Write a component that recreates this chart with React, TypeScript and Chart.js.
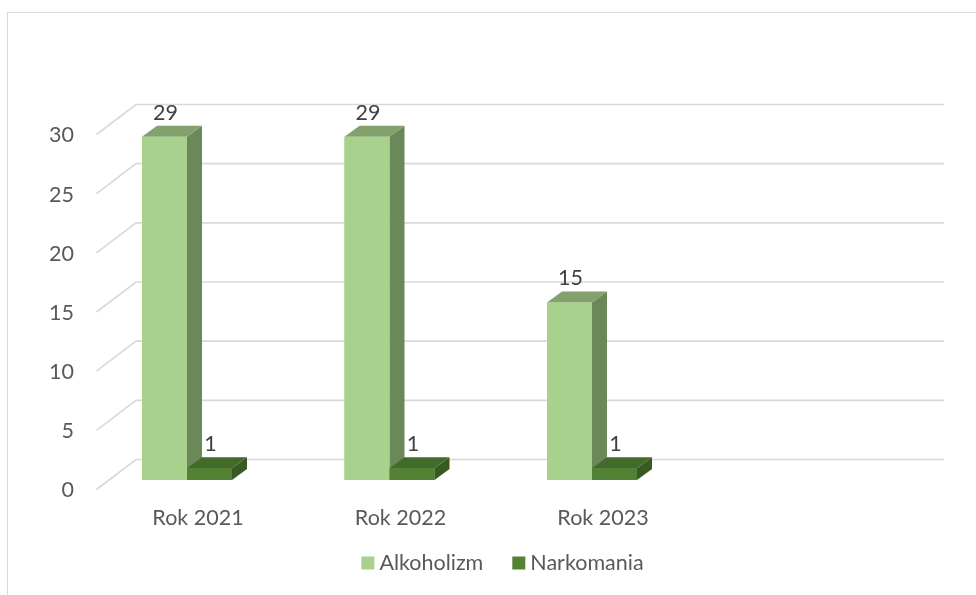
import { useEffect, useRef } from "react";
import { Chart, registerables } from "chart.js";

Chart.register(...registerables);

// ---- data ----
const categories = ["Rok 2021", "Rok 2022", "Rok 2023", ""];
const seriesNames = ["Alkoholizm", "Narkomania"];
const alkoholizm = [29, 29, 15, null];
const narkomania = [1, 1, 1, null];
const yMin = 0;
const yMax = 30;
const yStep = 5;

// ---- styles ----
const FONT_FAMILY = "Lato, 'Open Sans', sans-serif";
const FONT_SIZE = 21.5;
const AXIS_COLOR = "#595959";
const LABEL_COLOR = "#404040";
const GRID_COLOR = "#d9d9d9";
const FACES = [
  { front: "#A9D18E", top: "#82A16D", side: "#6B8859" },
  { front: "#548235", top: "#426A2A", side: "#375A22" },
];
const DEPTH_DX = 15;
const DEPTH_DY = -11;

const W = 976;
const H = 595;

const frameAndGrid = {
  id: "frameAndGrid",
  beforeDraw(chart: any) {
    const ctx = chart.ctx;
    ctx.save();
    ctx.fillStyle = "#ffffff";
    ctx.fillRect(0, 0, W, H);
    ctx.strokeStyle = GRID_COLOR;
    ctx.lineWidth = 1;
    ctx.strokeRect(7.5, 12.5, W + 50, H + 50);
    ctx.restore();
  },
  beforeDatasetsDraw(chart: any) {
    const ctx = chart.ctx;
    const ys = chart.scales.y;
    const { left, right } = chart.chartArea;
    ctx.save();
    ctx.strokeStyle = GRID_COLOR;
    ctx.lineWidth = 1.6;
    ys.ticks.forEach((t: any) => {
      const yb = ys.getPixelForValue(t.value);
      ctx.beginPath();
      ctx.moveTo(left + 10.75, yb + 9.5);
      ctx.lineTo(left + 50.25, yb - 20.5);
      ctx.lineTo(right + 48.25, yb - 20.5);
      ctx.stroke();
    });
    ctx.restore();
  },
};

const bars3d = {
  id: "bars3d",
  afterDatasetsDraw(chart: any) {
    const ctx = chart.ctx;
    const n = chart.data.labels.length;
    const poly = (pts: number[][], color: string) => {
      ctx.beginPath();
      ctx.moveTo(pts[0][0], pts[0][1]);
      for (let k = 1; k < pts.length; k++) ctx.lineTo(pts[k][0], pts[k][1]);
      ctx.closePath();
      ctx.fillStyle = color;
      ctx.fill();
    };
    ctx.save();
    const labels: any[] = [];
    for (let i = 0; i < n; i++) {
      chart.data.datasets.forEach((ds: any, d: number) => {
        const v = ds.data[i];
        if (v == null) return;
        const el = chart.getDatasetMeta(d).data[i];
        const { x, y, base, width } = el.getProps(["x", "y", "base", "width"], true);
        const l = x - width / 2;
        const r = x + width / 2;
        const f = FACES[d];
        poly([[r, y], [r + DEPTH_DX, y + DEPTH_DY], [r + DEPTH_DX, base + DEPTH_DY], [r, base]], f.side);
        poly([[l, y], [r, y], [r + DEPTH_DX, y + DEPTH_DY], [l + DEPTH_DX, y + DEPTH_DY]], f.top);
        ctx.fillStyle = f.front;
        ctx.fillRect(l, y, width, base - y);
        labels.push({ text: String(v), x: x + 1, y: y + DEPTH_DY - 13 });
      });
    }
    ctx.fillStyle = LABEL_COLOR;
    ctx.font = `${FONT_SIZE}px ${FONT_FAMILY}`;
    ctx.textAlign = "center";
    ctx.textBaseline = "middle";
    labels.forEach((lb) => ctx.fillText(lb.text, lb.x, lb.y));
    ctx.restore();
  },
};

const legendPlugin = {
  id: "customLegend",
  afterDraw(chart: any) {
    const ctx = chart.ctx;
    ctx.save();
    ctx.font = `${FONT_SIZE}px ${FONT_FAMILY}`;
    const box = 13;
    const gap = 5;
    const spacing = 29;
    const items = chart.data.datasets.map((ds: any, d: number) => ({
      label: ds.label,
      color: FACES[d].front,
      w: ctx.measureText(ds.label).width,
    }));
    const total =
      items.reduce((s: number, it: any) => s + box + gap + it.w, 0) + spacing * (items.length - 1);
    let x = 502.5 - total / 2;
    const yc = 563;
    ctx.textAlign = "left";
    ctx.textBaseline = "middle";
    items.forEach((it: any) => {
      ctx.fillStyle = it.color;
      ctx.fillRect(x, yc - box / 2, box, box);
      ctx.fillStyle = AXIS_COLOR;
      ctx.fillText(it.label, x + box + gap, yc);
      x += box + gap + it.w + spacing;
    });
    ctx.restore();
  },
};

export default function App() {
  const ref = useRef<HTMLCanvasElement | null>(null);
  useEffect(() => {
    if (!ref.current) return;
    const chart = new Chart(ref.current, {
      type: "bar",
      data: {
        labels: categories,
        datasets: [
          { label: seriesNames[0], data: alkoholizm as any, backgroundColor: FACES[0].front },
          { label: seriesNames[1], data: narkomania as any, backgroundColor: FACES[1].front },
        ],
      },
      options: {
        responsive: false,
        animation: false,
        events: [],
        layout: { padding: { left: 0, top: 125, right: 80.25, bottom: 0 } },
        datasets: { bar: { categoryPercentage: 90 / 202.5, barPercentage: 1 } },
        plugins: { legend: { display: false }, tooltip: { enabled: false } },
        scales: {
          x: {
            grid: { display: false, drawTicks: false },
            border: { display: false },
            ticks: {
              color: AXIS_COLOR,
              font: { family: FONT_FAMILY, size: FONT_SIZE },
              padding: 25,
              labelOffset: 11,
              maxRotation: 0,
              autoSkip: false,
            },
            afterFit: (s: any) => {
              s.height = 115;
            },
          },
          y: {
            min: yMin,
            max: yMax,
            grid: { display: false, drawTicks: false },
            border: { display: false },
            ticks: {
              stepSize: yStep,
              color: AXIS_COLOR,
              font: { family: FONT_FAMILY, size: FONT_SIZE },
              padding: 11.75,
              labelOffset: 10.5,
            },
            afterFit: (s: any) => {
              s.width = 85.75;
            },
          },
        },
      },
      plugins: [frameAndGrid, bars3d, legendPlugin],
    });
    return () => chart.destroy();
  }, []);
  return (
    <div style={{ position: "fixed", left: 0, top: 0, width: W, height: H }}>
      <canvas ref={ref} width={W} height={H} style={{ display: "block" }} />
    </div>
  );
}
